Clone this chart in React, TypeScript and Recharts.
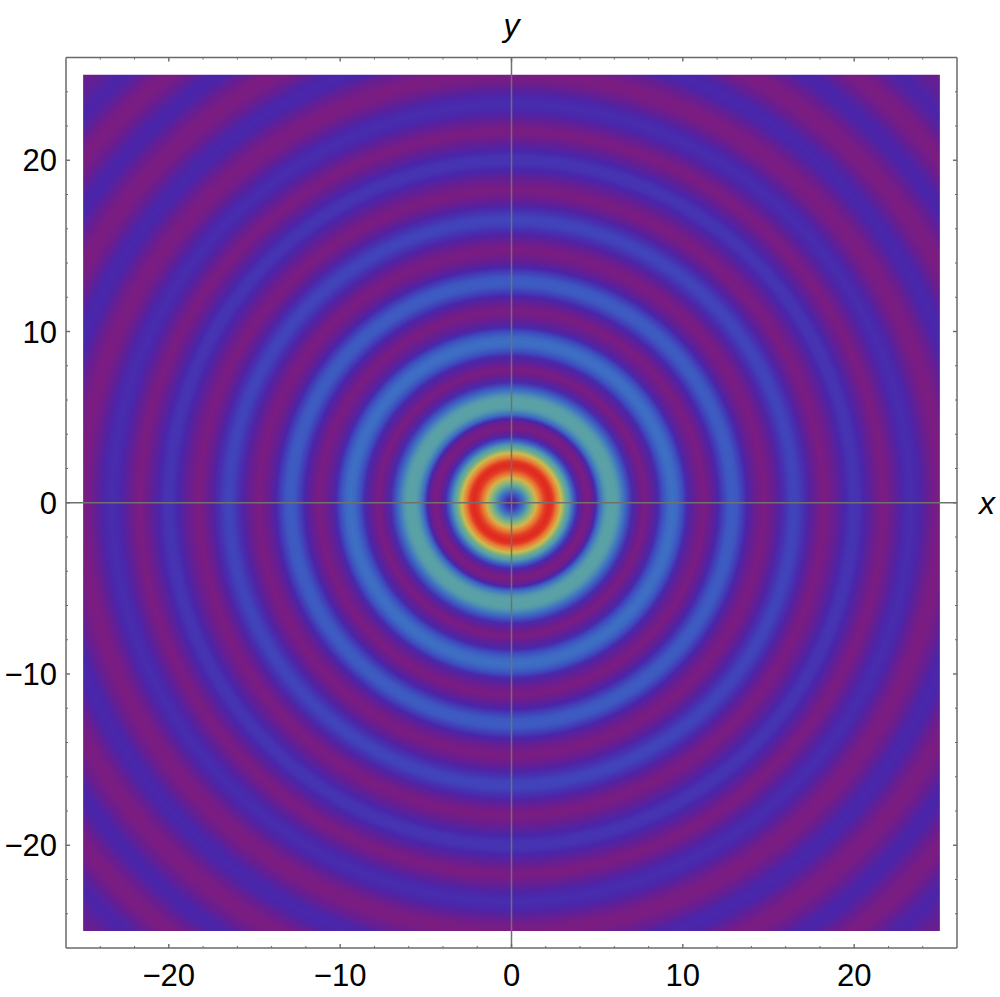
import { ScatterChart, XAxis, YAxis, ReferenceArea, ReferenceLine } from "recharts";

// radial profile: distance from origin and colour level (0..1)
const RING_RADIUS = [
  0, 0.25, 0.5, 0.75, 1.0, 1.25, 1.45, 1.7, 1.95, 2.2, 2.4, 2.65, 2.9, 3.15, 3.35, 3.6, 3.85, 4.1, 4.4,
  4.7, 4.9, 5.15, 5.45, 5.65, 5.85, 6.05, 6.25, 6.6, 7.05, 7.4, 7.8,
  8.0, 8.3, 8.55, 8.85, 9.15, 9.4, 9.65, 9.95, 10.25, 10.5, 10.8, 11.25,
  11.5, 11.8, 12.05, 12.35, 12.65, 12.9, 13.15, 13.45, 13.75, 14, 14.3, 14.75,
  15.1, 15.4, 15.65, 15.95, 16.25, 16.5, 16.75, 17.05, 17.35, 17.6, 17.9, 18.2,
  18.6, 18.9, 19.15, 19.45, 19.75, 20, 20.25, 20.55, 20.85, 21.1, 21.4, 21.65,
  21.9, 22.2, 22.45, 22.75, 23.05, 23.3, 23.55, 23.85, 24.15, 24.4, 24.7, 25.05,
  25.4, 25.7, 25.95, 26.25, 26.55, 26.8, 27.05, 27.35, 27.65, 27.9, 28.2, 28.55,
  28.9, 29.2, 29.45, 29.75, 30.05, 30.3, 30.55, 30.85, 31.15, 31.4, 31.7, 32,
  32.3, 32.6, 32.85, 33.15, 33.45, 33.7, 33.95, 34.25, 34.55, 34.8, 35.1, 35.36,
];
const RING_LEVEL = [
  0.11, 0.13, 0.21, 0.31, 0.43, 0.56, 0.68, 0.84, 0.96, 1, 0.97, 0.82, 0.64, 0.48, 0.37, 0.25, 0.13, 0.06, 0,
  0.05, 0.12, 0.27, 0.36, 0.385, 0.39, 0.385, 0.36, 0.27, 0.13, 0.06, 0,
  0.045, 0.085, 0.125, 0.2, 0.262, 0.28, 0.262, 0.2, 0.125, 0.085, 0.045, 0,
  0.04, 0.08, 0.12, 0.17, 0.22, 0.23, 0.22, 0.17, 0.12, 0.08, 0.04, 0,
  0.035, 0.07, 0.105, 0.14, 0.17, 0.18, 0.17, 0.14, 0.105, 0.07, 0.035, 0,
  0.03, 0.06, 0.09, 0.12, 0.145, 0.15, 0.145, 0.12, 0.09, 0.06, 0.03, 0,
  0.02, 0.05, 0.08, 0.11, 0.13, 0.135, 0.13, 0.11, 0.08, 0.05, 0.02, 0,
  0.015, 0.04, 0.065, 0.1, 0.12, 0.125, 0.12, 0.1, 0.065, 0.04, 0.015, 0,
  0.015, 0.04, 0.06, 0.095, 0.115, 0.12, 0.115, 0.095, 0.06, 0.04, 0.015, 0,
  0.012, 0.035, 0.06, 0.09, 0.11, 0.115, 0.11, 0.09, 0.075, 0.06, 0.05, 0.04,
];
const AXIS_TICKS = [-24, -22, -20, -18, -16, -14, -12, -10, -8, -6, -4, -2, 0, 2, 4, 6, 8, 10, 12, 14, 16, 18, 20, 22, 24];
const MAJOR_TICKS = [-20, -10, 0, 10, 20];

// colour ramp of the plot
const RAMP_LEVEL = [0, 0.06, 0.12, 0.2, 0.28, 0.38, 0.5, 0.62, 0.75, 0.88, 1];
const RAMP_RGB = [
  [124, 28, 128], [102, 30, 146], [74, 37, 170], [61, 80, 192], [61, 112, 196], [88, 160, 168],
  [112, 176, 136], [200, 192, 80], [232, 160, 64], [230, 100, 45], [224, 40, 31],
];

const FONT = '"Liberation Sans", Arial, sans-serif';
const FRAME = "#6a6a6a";
const MAX_RADIUS = 35.36;

function levelColor(level: number) {
  let i = 0;
  while (i < RAMP_LEVEL.length - 2 && level > RAMP_LEVEL[i + 1]) i++;
  const t = (level - RAMP_LEVEL[i]) / (RAMP_LEVEL[i + 1] - RAMP_LEVEL[i]);
  const c = RAMP_RGB[i].map((v, k) => Math.round(v + (RAMP_RGB[i + 1][k] - v) * t));
  return `rgb(${c[0]},${c[1]},${c[2]})`;
}

function makeTick(side: "top" | "bottom" | "left" | "right") {
  return function Tick({ x, y, payload }: any) {
    const major = MAJOR_TICKS.includes(payload.value);
    const len = major ? 4 : 2;
    const dx = side === "left" ? len : side === "right" ? -len : 0;
    const dy = side === "top" ? len : side === "bottom" ? -len : 0;
    const text = String(payload.value).replace("-", "\u2212");
    return (
      <g>
        <line x1={x} y1={y} x2={x + dx} y2={y + dy} stroke={FRAME} strokeWidth={major ? 1.4 : 1} />
        {major && side === "bottom" && (
          <text x={x} y={y + 38} textAnchor="middle" fontSize={31} fontFamily={FONT} fill="#000">
            {text}
          </text>
        )}
        {major && side === "left" && (
          <text x={x - 9} y={y + 11} textAnchor="end" fontSize={31} fontFamily={FONT} fill="#000">
            {text}
          </text>
        )}
      </g>
    );
  };
}

const axisLine = { stroke: FRAME, strokeWidth: 1.5 };
const DOMAIN: [number, number] = [-26, 26];

export default function App() {
  return (
    <div style={{ position: "absolute", left: 0, top: 0, width: 1000, height: 997, background: "#fff" }}>
      <ScatterChart width={1000} height={997} margin={{ top: 0, right: 0, bottom: 0, left: 0 }}>
        <defs>
          <radialGradient id="rings" cx="50%" cy="50%" r="70.72%">
            {RING_RADIUS.map((r, i) => (
              <stop key={r} offset={r / MAX_RADIUS} stopColor={levelColor(RING_LEVEL[i])} />
            ))}
          </radialGradient>
        </defs>
        <XAxis xAxisId="b" type="number" dataKey="x" orientation="bottom" height={49} domain={DOMAIN} ticks={AXIS_TICKS}
          interval={0} tickSize={0} tickMargin={0} axisLine={axisLine} tickLine={false} tick={makeTick("bottom")} allowDataOverflow />
        <XAxis xAxisId="t" type="number" dataKey="x" orientation="top" height={57.5} domain={DOMAIN} ticks={AXIS_TICKS}
          interval={0} tickSize={0} tickMargin={0} axisLine={axisLine} tickLine={false} tick={makeTick("top")} allowDataOverflow />
        <YAxis yAxisId="l" type="number" dataKey="y" orientation="left" width={66} domain={DOMAIN} ticks={AXIS_TICKS}
          interval={0} tickSize={0} tickMargin={0} axisLine={axisLine} tickLine={false} tick={makeTick("left")} allowDataOverflow />
        <YAxis yAxisId="r" type="number" dataKey="y" orientation="right" width={43} domain={DOMAIN} ticks={AXIS_TICKS}
          interval={0} tickSize={0} tickMargin={0} axisLine={axisLine} tickLine={false} tick={makeTick("right")} allowDataOverflow />
        <ReferenceArea xAxisId="b" yAxisId="l" x1={-25} x2={25} y1={-25} y2={25} fill="url(#rings)" fillOpacity={1} stroke="none" />
        <ReferenceLine xAxisId="b" yAxisId="l" x={0} stroke="#707070" strokeWidth={1.5}
          label={{ value: "y", position: "top", offset: 22, fontSize: 32, fontStyle: "italic", fontFamily: FONT, fill: "#000" }} />
        <ReferenceLine xAxisId="b" yAxisId="l" y={0} stroke="#707070" strokeWidth={1.5}
          label={{ value: "x", position: "right", offset: 22, fontSize: 32, fontStyle: "italic", fontFamily: FONT, fill: "#000" }} />
      </ScatterChart>
    </div>
  );
}
